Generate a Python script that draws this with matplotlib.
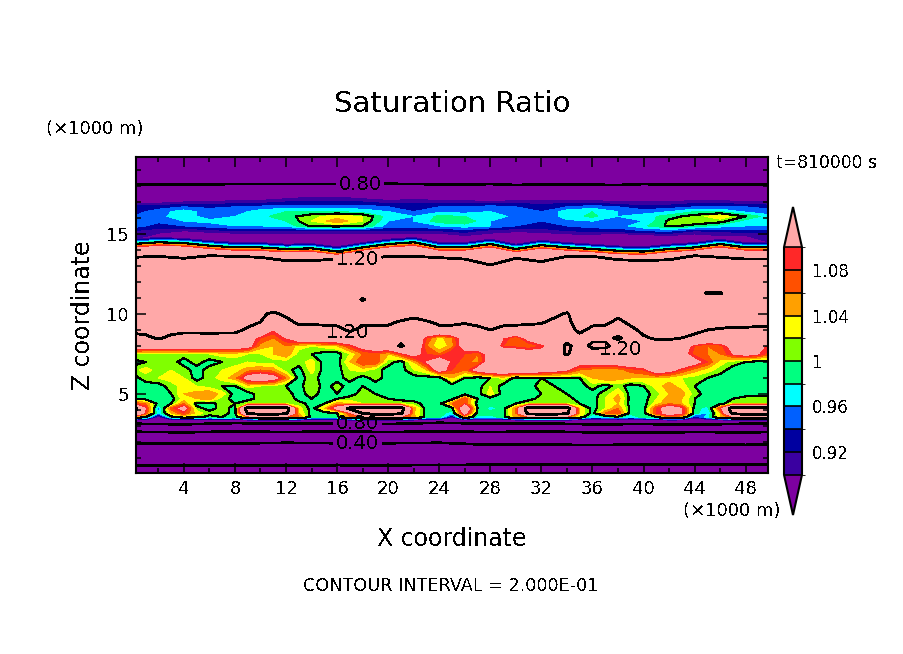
import numpy as np
import matplotlib
matplotlib.use('Agg')
import matplotlib.pyplot as plt
from matplotlib.colors import ListedColormap, BoundaryNorm

plt.rcParams['text.antialiased'] = False

W, H = 904, 654

# saturation ratio in percent, colour steps
levels = [90, 92, 94, 96, 98, 100, 102, 104, 106, 108, 110]
under_col = '#7d00a0'
over_col = '#ffa8a8'
band_cols = ['#3a00a0', '#0000a0', '#0060ff', '#00ffff', '#00ff80',
             '#80ff00', '#ffff00', '#ffa000', '#ff5000', '#ff2828']
line_levels = [20, 40, 60, 80, 100, 120]
line_widths = [1.2, 1.2, 1.2, 1.2, 0.8, 1.3]
cbar_ticks = [92, 96, 100, 104, 108]
cbar_labels = ['0.92', '0.96', '1', '1.04', '1.08']
x_ticks = list(range(4, 49, 4))
y_ticks = [5, 10, 15]

# lower stable layer: heights (km) of each value along x
x_sub = [0, 4, 8, 12, 16, 20, 24, 28, 32, 36, 40, 44, 48, 50]
sub_vals = [5, 20, 40, 60, 80, 85]
sub_z00 = [0.0] * 14
sub_z02 = [0.52, 0.52, 0.53, 0.52, 0.55, 0.54, 0.56, 0.58, 0.60, 0.60, 0.58, 0.60, 0.60, 0.60]
sub_z04 = [1.92, 1.90, 1.90, 1.95, 1.92, 1.92, 1.95, 1.82, 1.85, 1.80, 1.85, 1.85, 1.82, 1.85]
sub_z06 = [2.64, 2.60, 2.66, 2.62, 2.66, 2.62, 2.66, 2.62, 2.66, 2.60, 2.58, 2.62, 2.60, 2.62]
sub_z08 = [3.14, 3.10, 3.18, 3.14, 3.16, 3.12, 3.20, 3.14, 3.16, 3.10, 3.12, 3.08, 3.14, 3.16]
sub_z09 = [3.30] * 14

# cloud layer, one column per km
x_cloud = list(range(51))
z_cloud = [3.3, 3.55, 3.8, 4.1, 4.4, 4.7, 5.0, 5.5, 6.0, 6.5, 7.0, 7.5, 8.0, 8.5, 9.0, 9.5, 10.0, 10.5, 10.9, 11.3, 11.7]
r33 = [84] * 51
r355 = [105, 100, 88, 99, 102, 101, 99, 100, 99, 105,
        108, 108, 108, 106, 99, 99, 99, 106, 108, 108,
        108, 108, 105, 99, 99, 90, 104, 97, 97, 99,
        105, 107, 107, 107, 107, 102, 96, 97, 99, 96,
        99, 100, 106, 104, 92, 97, 104, 108, 108, 108, 108]
r38 = [122, 108, 96, 104, 108, 103, 101, 101, 99, 121,
       125, 125, 122, 104, 99, 99, 100, 108, 121, 125,
       125, 122, 104, 99, 99, 97, 112, 99, 99, 99,
       106, 123, 125, 125, 122, 104, 99, 106, 108, 99,
       99, 108, 112, 110, 99, 96, 104, 122, 125, 125, 125]
r41 = [125, 110, 95, 107, 112, 101, 99, 101, 99, 125,
       125, 125, 125, 103, 99, 104, 112, 122, 125, 125,
       125, 124, 105, 99, 99, 99, 116, 100, 97, 99,
       106, 125, 125, 125, 124, 104, 99, 102, 106, 99,
       99, 108, 113, 110, 99, 97, 108, 125, 125, 125, 125]
r44 = [108, 106, 99, 100, 106, 99, 99, 101, 100, 102,
       102, 102, 102, 101, 99, 100, 105, 104, 102, 102,
       102, 102, 101, 99, 99, 106, 108, 99, 99, 99,
       100, 102, 102, 102, 102, 100, 99, 102, 104, 99,
       99, 103, 106, 104, 100, 99, 99, 102, 102, 102, 102]
r47 = [99, 99, 99, 99, 103, 104, 105, 101, 99, 99,
       101, 101, 102, 99, 100, 99, 100, 101, 101, 101,
       100, 99, 99, 99, 99, 99, 108, 100, 99, 99,
       99, 99, 101, 101, 101, 99, 99, 102, 105, 99,
       99, 102, 105, 104, 100, 99, 99, 100, 101, 101, 101]
r50 = [99, 99, 99, 100, 104, 105, 106, 103, 99, 99,
       101, 101, 101, 99, 101, 99, 100, 99, 101, 100,
       99, 99, 99, 99, 99, 99, 99, 99, 103, 99,
       99, 99, 100, 101, 100, 99, 99, 101, 104, 99,
       99, 101, 104, 105, 101, 99, 99, 99, 99, 99, 99]
r55 = [99, 99, 99, 101, 103, 102, 101, 100, 100, 103,
       102, 102, 100, 99, 102, 99, 101, 99, 100, 99,
       99, 99, 99, 99, 99, 99, 99, 99, 102, 99,
       99, 99, 101, 100, 99, 99, 101, 99, 101, 99,
       100, 103, 105, 103, 100, 99, 99, 99, 100, 99, 99]
r60 = [99, 101, 102, 103, 102, 99, 101, 103, 105, 112,
       114, 112, 106, 99, 101, 99, 99, 101, 99, 101,
       99, 99, 99, 99, 99, 104, 100, 99, 100, 103,
       99, 100, 100, 100, 100, 100, 104, 106, 105, 104,
       104, 104, 103, 102, 101, 100, 99, 99, 99, 99, 99]
r65 = [101, 103, 101, 102, 101, 99, 101, 102, 103, 105,
       106, 105, 101, 99, 103, 99, 99, 102, 103, 101,
       99, 99, 102, 104, 112, 108, 106, 112, 115, 115,
       115, 115, 113, 112, 110, 106, 105, 105, 105, 107,
       108, 113, 112, 108, 105, 103, 101, 99, 99, 100, 99]
r70 = [99, 100, 101, 101, 99, 101, 99, 100, 101, 102,
       101, 101, 101, 101, 103, 99, 99, 104, 108, 108,
       101, 99, 104, 110, 114, 109, 107, 105, 113, 115,
       115, 115, 115, 114, 113, 112, 113, 113, 113, 114,
       115, 115, 115, 115, 112, 108, 103, 101, 100, 99, 99]
r75 = [102, 101, 101, 101, 101, 102, 102, 103, 103, 102,
       102, 104, 106, 101, 100, 99, 99, 102, 106, 107,
       104, 108, 112, 108, 106, 110, 108, 106, 112, 115,
       115, 113, 113, 115, 121, 115, 115, 114, 115, 115,
       115, 115, 115, 112, 107, 106, 106, 110, 112, 110, 106]
r80 = [114, 114, 114, 114, 114, 114, 114, 113, 113, 112,
       105, 104, 106, 103, 102, 103, 104, 108, 112, 114,
       115, 121, 116, 106, 102, 105, 113, 115, 115, 108,
       107, 106, 108, 113, 122, 116, 122, 122, 116, 116,
       116, 116, 116, 114, 108, 106, 107, 112, 114, 112, 108]
r85 = [116, 118, 121, 118, 115, 115, 116, 115, 115, 113,
       108, 106, 110, 115, 116, 116, 116, 116, 116, 116,
       116, 118, 116, 108, 103, 106, 113, 116, 116, 110,
       106, 112, 116, 117, 116, 117, 118, 118, 121, 117,
       119, 121, 121, 120, 118, 116, 116, 116, 116, 116, 116]
r90 = [123, 123, 123, 123, 123, 123, 123, 123, 123, 118,
       116, 110, 112, 116, 116, 117, 118, 121, 118, 117,
       117, 116, 116, 116, 117, 117, 116, 118, 120, 118,
       117, 116, 116, 116, 116, 122, 118, 117, 116, 118,
       122, 123, 123, 123, 122, 120, 119, 118, 118, 117, 117]
r95 = [124, 124, 124, 124, 124, 124, 124, 124, 124, 124,
       120, 112, 117, 122, 122, 122, 122, 124, 122, 122,
       122, 119, 118, 119, 122, 122, 121, 122, 124, 122,
       122, 122, 121, 118, 118, 124, 122, 122, 118, 122,
       124, 124, 124, 124, 124, 124, 124, 124, 124, 124, 124]
r100 = [126, 126, 126, 126, 126, 126, 126, 126, 126, 126,
        122, 118, 122, 126, 126, 126, 126, 126, 126, 126,
        126, 126, 122, 126, 126, 126, 126, 126, 126, 126,
        126, 126, 126, 122, 119, 126, 126, 126, 122, 126,
        126, 126, 126, 126, 126, 126, 126, 126, 126, 126, 126]
r105 = [126] * 51
r109 = [126] * 18 + [119] + [126] * 32
r113 = [126] * 45 + [119, 119] + [126] * 4
r117 = [126] * 51

# upper layer, one column per 2 km
x_top = list(range(0, 51, 2))
# heights of the sharp edge under the purple band and of the 1.20 line
edge_vals = [130, 120, 110, 105, 100, 95, 90]
edge_z130 = [12.8] * 26
edge_z120 = [13.54, 13.60, 13.48, 13.64, 13.60, 13.54, 13.33, 13.33, 13.43, 13.39, 13.60, 13.60, 13.52,
             13.43, 13.06, 13.48, 13.27, 13.60, 13.60, 13.39, 13.33, 13.39, 13.64, 13.54, 13.43, 13.43]
edge_z110 = [14.12, 14.22, 14.18, 14.02, 13.92, 13.90, 13.82, 13.85, 13.66, 13.92, 14.12, 14.22, 13.92,
             13.92, 14.12, 13.82, 14.05, 13.92, 13.82, 13.70, 13.66, 13.82, 13.92, 14.12, 13.92, 13.92]
edge_z105 = [14.25, 14.36, 14.31, 14.15, 14.04, 14.04, 13.94, 13.98, 13.78, 14.04, 14.25, 14.36, 14.04,
             14.04, 14.25, 13.94, 14.18, 14.04, 13.94, 13.83, 13.78, 13.94, 14.04, 14.25, 14.04, 14.04]
edge_z100 = [14.37, 14.48, 14.43, 14.27, 14.16, 14.16, 14.06, 14.10, 13.90, 14.16, 14.37, 14.48, 14.16,
             14.16, 14.37, 14.06, 14.30, 14.16, 14.06, 13.95, 13.90, 14.06, 14.16, 14.37, 14.16, 14.16]
edge_z095 = [14.52, 14.63, 14.58, 14.42, 14.31, 14.31, 14.21, 14.25, 14.05, 14.31, 14.52, 14.63, 14.31,
             14.31, 14.52, 14.21, 14.45, 14.31, 14.21, 14.10, 14.05, 14.21, 14.31, 14.52, 14.31, 14.31]
edge_z090 = [14.68, 14.78, 14.72, 14.58, 14.47, 14.46, 14.36, 14.40, 14.20, 14.46, 14.67, 14.78, 14.46,
             14.46, 14.67, 14.36, 14.60, 14.46, 14.36, 14.25, 14.20, 14.36, 14.46, 14.67, 14.46, 14.46]
z_band = [14.9, 15.2, 15.5, 15.8, 16.1, 16.4, 16.7, 17.0, 17.3]
b149 = [92, 89, 88, 88, 88, 88, 88, 88, 88, 88, 88, 89, 88, 90, 89, 88, 88, 89, 89, 88, 89, 90, 89, 90, 90, 91]
b152 = [92, 91, 90, 91, 92, 92, 92, 92, 92, 92, 92, 92, 92, 93, 91, 90.5, 91, 92, 92.5, 93, 94, 94.5, 92, 92.5, 93, 93]
b155 = [95, 93, 94, 95, 96, 96, 96.5, 100.5, 101, 100, 95, 95, 96, 97, 96, 94, 93, 94, 95, 95, 97.5, 100.5, 99, 97, 96, 96]
b158 = [96, 94.5, 96, 96.5, 97, 97, 98, 102, 105.5, 102, 96, 96, 99, 99.5, 96, 94.5, 94, 95.5, 96, 95, 96, 100.5, 102, 101, 97, 97]
b161 = [94, 95.5, 97, 95, 96, 97.5, 99, 101.5, 103, 102, 97, 96, 98.5, 98, 97, 95.5, 94, 97, 98.5, 96, 97, 99, 101, 103.5, 100, 96.5]
b164 = [93, 95, 97, 95, 95, 97, 98, 98, 98, 97, 96, 94, 95.5, 95, 96, 95.5, 94, 97, 98, 96, 95, 96, 98, 98, 95.5, 95]
b167 = [92.5, 93, 94, 93.5, 94, 94.5, 95, 95, 95, 95, 94, 93.5, 94, 94, 95, 94, 93, 94, 95, 94, 92.5, 93, 94, 94, 94, 93]
b170 = [89, 89, 90, 90, 91, 91, 92, 92, 92, 92, 91, 91, 91, 91, 90, 91, 91, 91, 91, 90, 90, 90, 91, 91, 90, 90]
b173 = [87, 87, 87, 87.5, 88, 88, 89, 90, 90, 89, 88, 89, 88, 88, 88, 88, 88, 88, 88, 88, 88, 88, 88, 88, 88, 88]
cap_vals = [80, 70]
cap_z080 = [18.08, 18.08, 18.10, 18.10, 18.12, 18.12, 18.12, 18.12, 18.12, 18.12, 18.14, 18.12, 18.10,
            18.08, 18.12, 18.06, 18.10, 18.08, 18.08, 18.06, 18.12, 18.08, 18.10, 18.10, 18.08, 18.08]
cap_z070 = [19.9] * 26

x_lim = (0.25, 49.75)
y_lim = (0.06, 19.81)

cmap = ListedColormap(band_cols)
cmap.set_under(under_col)
cmap.set_over(over_col)
norm = BoundaryNorm(levels, cmap.N)


def px_box(left, top, right, bottom):
    return [left / W, 1 - bottom / H, (right - left) / W, (bottom - top) / H]


def put(px, py, s, **kw):
    fig.text(px / W, 1 - py / H, s, ha=kw.pop('ha', 'center'), va='center', color='black', **kw)


def draw_block(X, Y, Z):
    cf = ax.contourf(X, Y, Z, levels=levels, cmap=cmap, norm=norm, extend='both')
    cl = ax.contour(X, Y, Z, levels=line_levels, colors='black', linewidths=line_widths,
                    linestyles='solid', antialiased=False)
    return cf, cl


fig = plt.figure(figsize=(W / 100, H / 100), dpi=100)
ax = fig.add_axes(px_box(136, 157, 768, 473))
ax.set_facecolor(over_col)
ax.set_xlim(*x_lim)
ax.set_ylim(*y_lim)

# sub-cloud layer
Zs = np.array([[v] * len(x_sub) for v in sub_vals], dtype=float)
Ys = np.array([sub_z00, sub_z02, sub_z04, sub_z06, sub_z08, sub_z09])
Xs = np.tile(np.array(x_sub, dtype=float), (len(sub_vals), 1))
_, cl_sub = draw_block(Xs, Ys, Zs)

# cloud layer
Zc = np.array([r33, r355, r38, r41, r44, r47, r50, r55, r60, r65, r70, r75, r80, r85,
               r90, r95, r100, r105, r109, r113, r117], dtype=float)
cf_main, cl_cloud = draw_block(np.array(x_cloud, dtype=float), np.array(z_cloud), Zc)

# upper layer, stacked edge heights, band rows and cap
edge_rows = [edge_z130, edge_z120, edge_z110, edge_z105, edge_z100, edge_z095, edge_z090]
band_rows = [b149, b152, b155, b158, b161, b164, b167, b170, b173]
Yt = np.array(edge_rows + [[z] * 26 for z in z_band] + [cap_z080, cap_z070])
Zt = np.array([[v] * 26 for v in edge_vals] + band_rows + [[v] * 26 for v in cap_vals], dtype=float)
Xt = np.tile(np.array(x_top, dtype=float), (Yt.shape[0], 1))
_, cl_top = draw_block(Xt, Yt, Zt)

# contour labels, values are in percent
lab_font = 14
def fmt(v):
    return '%.2f' % (v / 100.0)


cl_top.clabel(manual=[(17.8, 18.1), (17.6, 13.4)], fmt=fmt, fontsize=lab_font, inline_spacing=3)
cl_sub.clabel(manual=[(17.6, 3.1), (17.6, 1.9)], fmt=fmt, fontsize=lab_font, inline_spacing=3)
for cs in (cl_top, cl_sub):
    for t in cs.labelTexts:
        t.set_rotation(0)
ax.text(16.8, 8.85, '1.20', fontsize=lab_font, ha='center', va='center')
ax.text(38.2, 7.75, '1.20', fontsize=lab_font, ha='center', va='center')

ax.set_xlim(*x_lim)
ax.set_ylim(*y_lim)
ax.set_xticks(x_ticks)
ax.set_xticks(list(range(2, 50, 4)), minor=True)
ax.set_yticks(y_ticks)
ax.set_yticks([v for v in range(1, 20) if v % 5], minor=True)
ax.tick_params(which='major', direction='in', top=True, right=True, length=7.2, width=1.1,
               labelsize=13, pad=5)
ax.tick_params(which='minor', direction='in', top=True, right=True, length=3.6, width=1.1)
for s in ax.spines.values():
    s.set_linewidth(1.5)

# the tips are drawn inside this box, 207 to 515 px with the bar at 247 to 473
cax = fig.add_axes(px_box(784, 207, 802, 515))
cb = fig.colorbar(cf_main, cax=cax, extend='both', extendfrac=0.177, drawedges=True,
                  spacing='uniform', ticks=cbar_ticks)
cb.ax.set_yticklabels(cbar_labels)
cb.ax.tick_params(length=0, labelsize=12, pad=7)
cb.outline.set_linewidth(1.5)
cb.dividers.set_color('black')
cb.dividers.set_linewidth(1.2)

put(452, 104, 'Saturation Ratio', fontsize=21)
put(95, 129, '(\u00d71000 m)', fontsize=13)
put(732, 511, '(\u00d71000 m)', fontsize=13)
put(827, 163, 't=810000 s', fontsize=12.3)
put(452, 539, 'X coordinate', fontsize=17)
put(83, 315, 'Z coordinate', fontsize=17, rotation=90)
put(451, 586, 'CONTOUR INTERVAL = 2.000E-01', fontsize=12.7)

fig.savefig('out.png', dpi=100)
